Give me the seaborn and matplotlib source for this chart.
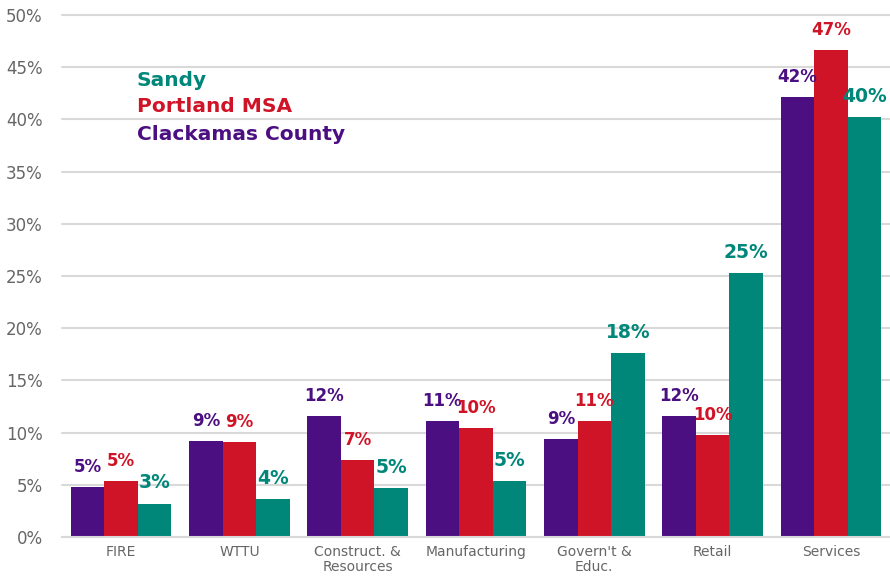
import numpy as np
import pandas as pd
import seaborn as sns
import matplotlib.pyplot as plt

categories = ["FIRE", "WTTU", "Construct. &\nResources", "Manufacturing",
              "Govern't &\nEduc.", "Retail", "Services"]
series = ["Clackamas County", "Portland MSA", "Sandy"]
clackamas = [4.8, 9.2, 11.6, 11.1, 9.4, 11.6, 42.1]
portland = [5.4, 9.1, 7.4, 10.4, 11.1, 9.8, 46.6]
sandy = [3.2, 3.6, 4.7, 5.4, 17.6, 25.3, 40.2]
yticks = [0, 5, 10, 15, 20, 25, 30, 35, 40, 45, 50]

colors = {"Clackamas County": "#4B0F82", "Portland MSA": "#D01427", "Sandy": "#00877A"}

df = pd.DataFrame({
    "category": categories * 3,
    "series": np.repeat(series, len(categories)),
    "value": clackamas + portland + sandy,
})

sns.set_style("white")
plt.rcParams['font.family'] = ['DejaVu Sans']

fig = plt.figure(figsize=(8.9, 5.79), dpi=100)
ax = fig.add_axes([62 / 890, 42 / 579, 828 / 890, 522 / 579])

sns.barplot(data=df, x="category", y="value", hue="series", hue_order=series,
            order=categories, palette=colors, saturation=1, width=0.85,
            linewidth=0, ax=ax, legend=False)

ax.set_ylim(0, 50)
ax.set_xlim(-0.5, 6.5)
ax.set_yticks(yticks)
ax.set_yticklabels([f"{t}%" for t in yticks])
ax.yaxis.grid(True, color="#d9d9d9", linewidth=1.5)
for gl in ax.get_ygridlines():
    gl.set_clip_on(False)
ax.set_axisbelow(True)
for s in ["top", "right", "left"]:
    ax.spines[s].set_visible(False)
ax.spines["bottom"].set_color("#d9d9d9")
ax.spines["bottom"].set_linewidth(1.5)
ax.tick_params(axis="y", length=0, pad=14, labelsize=12, labelcolor="#666666")
ax.tick_params(axis="x", length=0, pad=6, labelsize=10, labelcolor="#666666")
for lbl in ax.get_xticklabels():
    lbl.set_linespacing(1.1)
ax.set_xlabel("")
ax.set_ylabel("")

vals = [clackamas, portland, sandy]
sizes = [12, 12, 13.5]
for cont, name, v, fs in zip(ax.containers, series, vals, sizes):
    ax.bar_label(cont, labels=[f"{round(x):.0f}%" for x in v], padding=8,
                 color=colors[name], fontsize=fs, fontweight="bold", clip_on=False)

for i, name in enumerate(["Sandy", "Portland MSA", "Clackamas County"]):
    fig.text(137 / 890, 1 - (80 + 27 * i) / 579, name, color=colors[name],
             fontsize=14.5, fontweight="bold", va="center", ha="left")

fig.savefig("out.png", dpi=100)
